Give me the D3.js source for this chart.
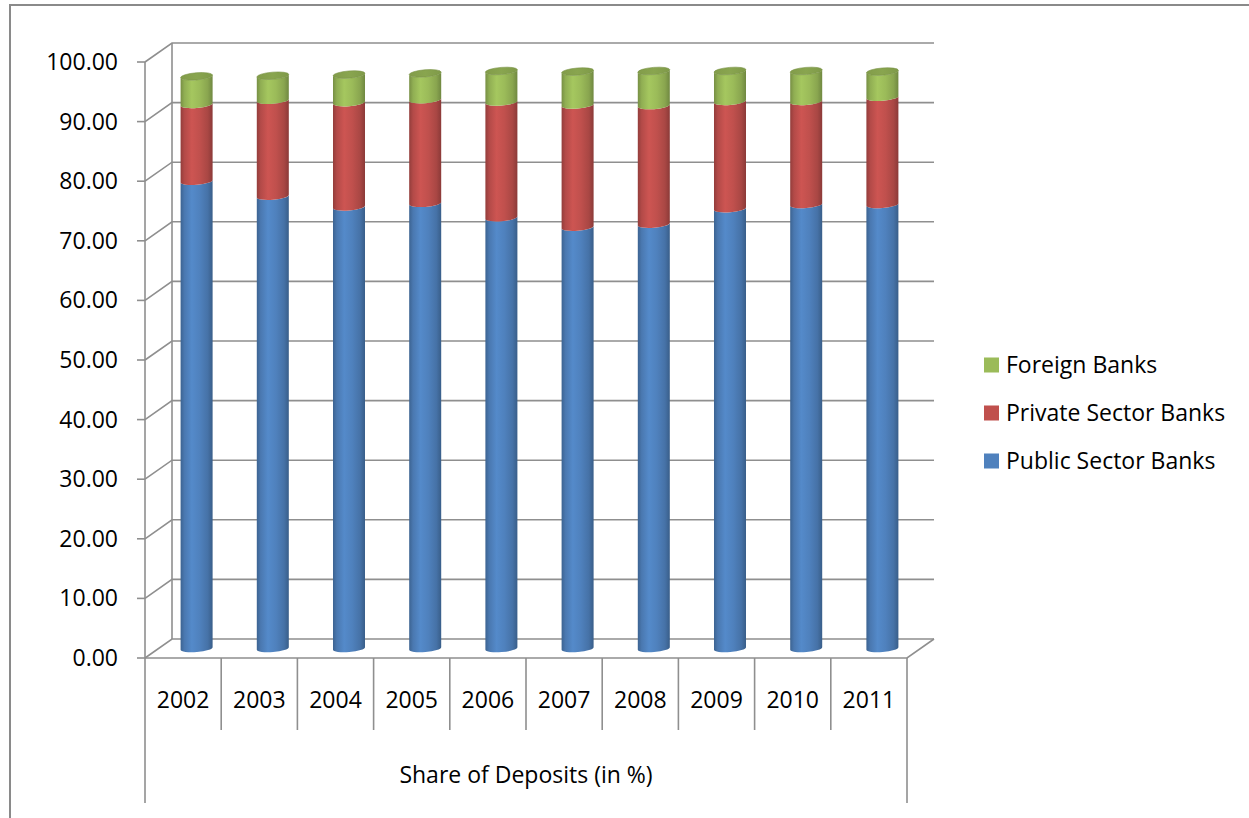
<!DOCTYPE html>
<html>
<head>
<meta charset="utf-8">
<script src="https://cdn.jsdelivr.net/npm/d3@7"></script>
<style>
  html, body { margin: 0; padding: 0; background: #fff; }
  svg { display: block; }
  text { font-family: "Open Sans", "Noto Sans", sans-serif; fill: #000; }
</style>
</head>
<body>
<svg id="chart" width="1249" height="818"></svg>
<script>
// Share of deposits (in %) by bank group, 2002-2011
const years = ["2002", "2003", "2004", "2005", "2006", "2007", "2008", "2009", "2010", "2011"];
const publicSector  = [78.4, 75.9, 74.1, 74.7, 72.3, 70.7, 71.2, 73.8, 74.5, 74.5];
const privateSector = [12.9, 16.1, 17.5, 17.4, 19.4, 20.5, 19.9, 18.0, 17.3, 18.0];
const foreign       = [ 4.7,  4.1,  4.7,  4.4,  5.2,  5.6,  5.8,  5.1,  5.1,  4.3];
const seriesNames = ["Public Sector Banks", "Private Sector Banks", "Foreign Banks"];
const yTicks = [0, 10, 20, 30, 40, 50, 60, 70, 80, 90, 100];
const axisTitle = "Share of Deposits (in %)";

const svg = d3.select("#chart");
const W = 1249, H = 818;
const fontSize = 23;

// plot geometry (front face of the 3-D box plus depth offset to the back wall)
const left = 145, right = 907, floorY = 658, topY = 62;
const depth = { dx: 27, dy: -19 };

const x = d3.scaleBand().domain(years).range([left, right]).padding(0);
const y = d3.scaleLinear().domain([0, 100]).range([floorY, topY]);

const colors = {
  "Public Sector Banks": "#4F81BD",
  "Private Sector Banks": "#C0504D",
  "Foreign Banks": "#9BBB59"
};
const gridColor = "#8f8f8f";

// outer chart-area border
svg.append("path")
  .attr("d", `M10,${H + 2} L10,5 L${W + 2},5`)
  .attr("fill", "none").attr("stroke", "#8a8a8a").attr("stroke-width", 2);

// side-wall diagonals + back-wall gridlines
const grid = svg.append("g").attr("fill", "none").attr("stroke", gridColor).attr("stroke-width", 1.6);
yTicks.forEach(t => {
  const fy = y(t), by = y(t) + depth.dy;
  grid.append("path")
    .attr("d", `M${left},${fy} L${left + depth.dx},${by} L${right + depth.dx},${by}`);
});
// back wall left edge
grid.append("line")
  .attr("x1", left + depth.dx).attr("x2", left + depth.dx)
  .attr("y1", y(100) + depth.dy).attr("y2", y(0) + depth.dy);
// floor front edge and right side edge
grid.append("path")
  .attr("d", `M${left},${floorY} L${right},${floorY} L${right + depth.dx},${floorY + depth.dy}`);

// gradients for cylinder shading
const defs = svg.append("defs");
function shade(id, base) {
  const c = d3.color(base);
  const g = defs.append("linearGradient").attr("id", id)
    .attr("x1", "0%").attr("x2", "100%").attr("y1", "0%").attr("y2", "0%");
  const stops = [
    [0, c.darker(0.75)], [0.12, c.darker(0.2)], [0.35, c.brighter(0.18)],
    [0.6, c], [0.85, c.darker(0.35)], [1, c.darker(0.9)]
  ];
  stops.forEach(([o, col]) => g.append("stop").attr("offset", o).attr("stop-color", col.formatHex()));
}
seriesNames.forEach((s, i) => shade("grad" + i, colors[s]));
(function () {
  const c = d3.color(colors["Foreign Banks"]);
  const g = defs.append("linearGradient").attr("id", "capGrad")
    .attr("x1", "0%").attr("x2", "100%").attr("y1", "0%").attr("y2", "0%");
  g.append("stop").attr("offset", 0).attr("stop-color", c.darker(0.5).formatHex());
  g.append("stop").attr("offset", 0.5).attr("stop-color", c.darker(0.35).formatHex());
  g.append("stop").attr("offset", 1).attr("stop-color", c.darker(0.55).formatHex());
})();

// stacked cylinders
const stackData = years.map((yr, i) => ({
  year: yr,
  "Public Sector Banks": publicSector[i],
  "Private Sector Banks": privateSector[i],
  "Foreign Banks": foreign[i]
}));
const stacked = d3.stack().keys(seriesNames)(stackData);

const rx = x.bandwidth() * 0.21, ry = 3.6, tilt = 1.3;
const rot = Math.atan2(-2 * tilt, 2 * rx) * 180 / Math.PI;
const rxT = Math.hypot(rx, tilt);
const cx = yr => x(yr) + x.bandwidth() / 2 + depth.dx / 2;
const cy = v => y(v) + depth.dy / 2;

const cyl = svg.append("g");
stacked.forEach((layer, si) => {
  layer.forEach((d, i) => {
    const xc = cx(years[i]);
    const y0 = cy(d[0]), y1 = cy(d[1]);
    const xl = xc - rx, xr = xc + rx;
    const p =
      `M${xl},${y1 + tilt} L${xl},${y0 + tilt} ` +
      `A${rxT},${ry} ${rot} 0 0 ${xr},${y0 - tilt} ` +
      `L${xr},${y1 - tilt} ` +
      `A${rxT},${ry} ${rot} 0 1 ${xl},${y1 + tilt} Z`;
    cyl.append("path").attr("d", p).attr("fill", `url(#grad${si})`);
  });
});
// top caps
stacked[stacked.length - 1].forEach((d, i) => {
  const xc = cx(years[i]), yt = cy(d[1]);
  const xl = xc - rx, xr = xc + rx;
  cyl.append("path")
    .attr("d", `M${xl},${yt + tilt} A${rxT},${ry} ${rot} 0 1 ${xr},${yt - tilt} A${rxT},${ry} ${rot} 0 1 ${xl},${yt + tilt} Z`)
    .attr("fill", "url(#capGrad)")
    .attr("stroke", d3.color(colors["Foreign Banks"]).darker(0.7).formatHex())
    .attr("stroke-width", 0.6);
});

// front value axis
const yAxis = svg.append("g");
yAxis.append("line")
  .attr("x1", left).attr("x2", left).attr("y1", y(100)).attr("y2", floorY)
  .attr("stroke", gridColor).attr("stroke-width", 1.6);
yTicks.forEach(t => {
  yAxis.append("line")
    .attr("x1", left - 8).attr("x2", left).attr("y1", y(t)).attr("y2", y(t))
    .attr("stroke", gridColor).attr("stroke-width", 1.6);
  yAxis.append("text")
    .attr("x", 118).attr("y", y(t)).attr("dy", "0.35em")
    .attr("text-anchor", "end").attr("font-size", fontSize)
    .text(d3.format(".2f")(t));
});

// category axis: dividers, year labels and group label
const xAxis = svg.append("g");
years.forEach((yr, i) => {
  if (i > 0) {
    xAxis.append("line")
      .attr("x1", x(yr)).attr("x2", x(yr)).attr("y1", floorY).attr("y2", 730)
      .attr("stroke", gridColor).attr("stroke-width", 1.6);
  }
  xAxis.append("text")
    .attr("x", x(yr) + x.bandwidth() / 2).attr("y", 700).attr("dy", "0.35em")
    .attr("text-anchor", "middle").attr("font-size", fontSize)
    .text(yr);
});
[left, right].forEach(xx => {
  xAxis.append("line")
    .attr("x1", xx).attr("x2", xx).attr("y1", floorY).attr("y2", 803)
    .attr("stroke", gridColor).attr("stroke-width", 1.6);
});
xAxis.append("text")
  .attr("x", (left + right) / 2).attr("y", 775).attr("dy", "0.35em")
  .attr("text-anchor", "middle").attr("font-size", fontSize)
  .text(axisTitle);

// legend (reverse stacking order)
const legend = svg.append("g");
seriesNames.slice().reverse().forEach((s, i) => {
  const ly = 365 + i * 48;
  legend.append("rect")
    .attr("x", 984).attr("y", ly - 7.5).attr("width", 15).attr("height", 15)
    .attr("fill", colors[s]);
  legend.append("text")
    .attr("x", 1006).attr("y", ly).attr("dy", "0.35em")
    .attr("font-size", fontSize)
    .text(s);
});
</script>
</body>
</html>
